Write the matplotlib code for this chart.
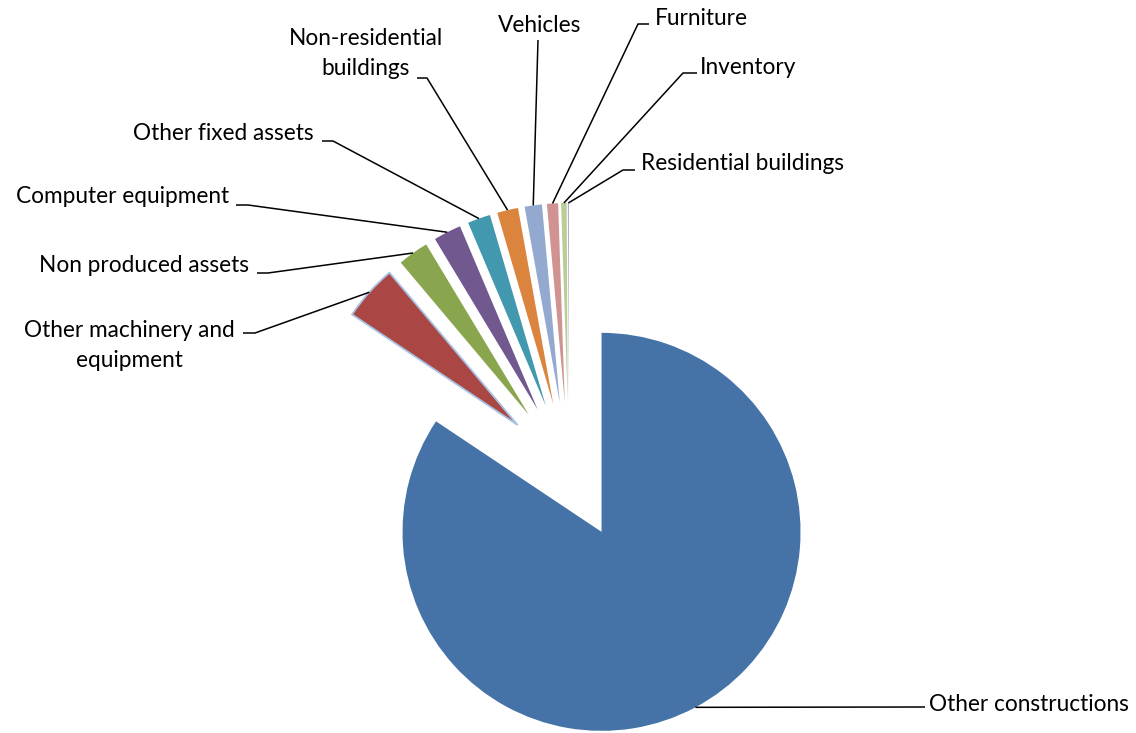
import matplotlib.pyplot as plt
import numpy as np

# asset categories and their share of the total (%)
categories = ["Other constructions", "Other machinery and\nequipment", "Non produced assets",
              "Computer equipment", "Other fixed assets", "Non-residential\nbuildings",
              "Vehicles", "Furniture", "Inventory", "Residential buildings"]
shares = [84.37, 4.5, 2.5, 2.25, 1.85, 1.7, 1.4, 0.9, 0.45, 0.08]
colors = ['#4572A7', '#AA4643', '#89A54E', '#71588F', '#4198AF',
          '#DB843D', '#93A9CF', '#D19392', '#B9CD96', '#A99BBD']

W, H = 1136, 733
R = 199          # pie radius, px
EXPLODE = 69     # every slice pulled out by this much

plt.rcParams['font.family'] = ['Lato', 'DejaVu Sans']

fig = plt.figure(figsize=(W / 100, H / 100), dpi=100)
ax = fig.add_axes([0, 0, 1, 1])

wedges, _ = ax.pie(shares, colors=colors, startangle=90, counterclock=False,
                   radius=R, center=(569, H - 471), explode=[EXPLODE] * len(shares),
                   wedgeprops=dict(linewidth=0))
wedges[1].set_edgecolor('#a8c1e3')
wedges[1].set_linewidth(1.3)

ax.set_xlim(0, W)
ax.set_ylim(0, H)
ax.set_aspect('equal')
ax.axis('off')

# label spots (x, first baseline, from top-left) and leader knee points
layout = [
    dict(xy=(929, 711), ha='left', knees=[(925, 707)]),
    dict(xy=(129, 337), ha='center', knees=[(243, 333), (255, 333)]),
    dict(xy=(249, 272), ha='right', knees=[(257, 273), (268, 273)]),
    dict(xy=(229, 203), ha='right', knees=[(236, 205), (248, 205)]),
    dict(xy=(314, 140), ha='right', knees=[(322, 141), (333, 141)]),
    dict(xy=(366, 45), ha='center', knees=[(417, 78), (427, 78)]),
    dict(xy=(540, 32), ha='center', knees=[(538, 40)]),
    dict(xy=(655, 25), ha='left', knees=[(649, 24), (638, 24)]),
    dict(xy=(700, 74), ha='left', knees=[(697, 73), (683, 73)]),
    dict(xy=(641, 170), ha='left', knees=[(635, 170), (623, 170)]),
]

for w, name, spot in zip(wedges, categories, layout):
    mid = np.deg2rad((w.theta1 + w.theta2) / 2)
    tip = (w.center[0] + w.r * np.cos(mid), w.center[1] + w.r * np.sin(mid))
    pts = [(x, H - y) for x, y in spot['knees']] + [tip]
    xs, ys = zip(*pts)
    ax.plot(xs, ys, color='black', lw=1.1, solid_capstyle='butt')

    x, y = spot['xy']
    for i, line in enumerate(name.split('\n')):
        ax.text(x, H - (y + 30 * i), line, ha=spot['ha'], va='baseline',
                fontsize=16.3, color='black')

fig.savefig('out.png', dpi=100)
